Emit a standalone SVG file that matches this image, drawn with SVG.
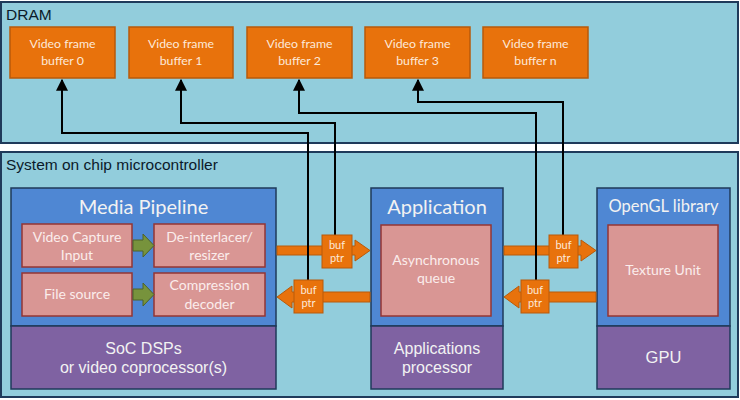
<svg xmlns="http://www.w3.org/2000/svg" width="740" height="400" viewBox="0 0 740 400">
<defs>
<style>
.region{fill:#92CDDC;stroke:#1F3A5A;stroke-width:2}
.rtitle{font-family:"Liberation Sans",Arial,sans-serif;font-size:15.5px;fill:#0B1A2A}
.buf{fill:#E8720C;stroke:#B85A0A;stroke-width:1.5}
.buft{font-family:Lato,"Open Sans",sans-serif;font-size:12.3px;fill:#FDE9D9;text-anchor:middle}
.blue{fill:#4F87D3;stroke:#1F3A5A;stroke-width:1.5}
.purple{fill:#7F62A2;stroke:#1F3A5A;stroke-width:1.5}
.pink{fill:#D99694;stroke:#943634;stroke-width:1.5}
.title{font-family:Lato,"Open Sans",sans-serif;font-size:20px;fill:#F2F2F2;text-anchor:middle}
.inner{font-family:Lato,"Open Sans",sans-serif;font-size:14px;fill:#FBEDEC;text-anchor:middle}
.proc{font-family:"Liberation Sans",Arial,sans-serif;font-size:16px;fill:#F2F2F2;text-anchor:middle}
.garrow{fill:#77933C;stroke:#4F6228;stroke-width:1}
.oarrow{fill:#E8720C;stroke:#B85A0A;stroke-width:1}
.ptr{fill:#E8720C;stroke:#B85A0A;stroke-width:1}
.ptrt{font-family:Lato,"Open Sans",sans-serif;font-size:11px;fill:#FDE9D9;text-anchor:middle}
.wire{fill:none;stroke:#000;stroke-width:2;marker-end:url(#ah)}
</style>
<marker id="ah" viewBox="0 0 10 10" refX="9" refY="5" markerWidth="6" markerHeight="6" orient="auto" markerUnits="strokeWidth">
<path d="M0,0 L10,5 L0,10 z" fill="#000"/>
</marker>
</defs>

<g id="dram">
<rect class="region" x="1" y="2" width="737" height="141"/>
<text class="rtitle" x="6" y="20">DRAM</text>
</g>
<g id="buffer0"><rect class="buf" x="10" y="27" width="105" height="51"/><text class="buft" x="62.5" y="48">Video frame</text><text class="buft" x="62.5" y="65">buffer 0</text></g>
<g id="buffer1"><rect class="buf" x="129" y="27" width="104" height="51"/><text class="buft" x="181" y="48">Video frame</text><text class="buft" x="181" y="65">buffer 1</text></g>
<g id="buffer2"><rect class="buf" x="247" y="27" width="105" height="51"/><text class="buft" x="299.5" y="48">Video frame</text><text class="buft" x="299.5" y="65">buffer 2</text></g>
<g id="buffer3"><rect class="buf" x="365" y="27" width="105" height="51"/><text class="buft" x="417.5" y="48">Video frame</text><text class="buft" x="417.5" y="65">buffer 3</text></g>
<g id="buffern"><rect class="buf" x="483" y="27" width="105" height="51"/><text class="buft" x="535.5" y="48">Video frame</text><text class="buft" x="535.5" y="65">buffer n</text></g>

<g id="soc">
<rect class="region" x="1" y="152" width="737" height="245"/>
<text class="rtitle" x="6" y="170">System on chip microcontroller</text>
</g>

<g id="media-pipeline">
<rect class="blue" x="11" y="188" width="265" height="138"/>
<rect class="purple" x="11" y="326" width="265" height="63"/>
<text class="title" x="143.5" y="214">Media Pipeline</text>
<text class="proc" x="143.5" y="354">SoC DSPs</text>
<text class="proc" x="143.5" y="373">or video coprocessor(s)</text>
</g>
<g id="video-capture"><rect class="pink" x="22" y="224" width="110" height="43"/><text class="inner" x="77" y="242">Video Capture</text><text class="inner" x="77" y="260">Input</text></g>
<g id="deinterlacer"><rect class="pink" x="154" y="224" width="111" height="43"/><text class="inner" x="209.5" y="242">De-interlacer/</text><text class="inner" x="209.5" y="260">resizer</text></g>
<g id="file-source"><rect class="pink" x="22" y="273" width="110" height="43"/><text class="inner" x="77" y="299">File source</text></g>
<g id="compression"><rect class="pink" x="154" y="273" width="111" height="43"/><text class="inner" x="209.5" y="290">Compression</text><text class="inner" x="209.5" y="309">decoder</text></g>

<g id="application">
<rect class="blue" x="371" y="188" width="132" height="138"/>
<rect class="purple" x="371" y="326" width="132" height="63"/>
<text class="title" x="437" y="214">Application</text>
<text class="proc" x="437" y="354">Applications</text>
<text class="proc" x="437" y="373">processor</text>
</g>
<g id="async-queue"><rect class="pink" x="381" y="225" width="110" height="91"/><text class="inner" x="436" y="265">Asynchronous</text><text class="inner" x="436" y="283">queue</text></g>

<g id="opengl">
<rect class="blue" x="597" y="188" width="133" height="138"/>
<rect class="purple" x="597" y="326" width="133" height="63"/>
<text class="title" x="663.5" y="212" style="font-size:16.5px">OpenGL library</text>
<text class="proc" x="663.5" y="363" style="font-size:16.5px">GPU</text>
</g>
<g id="texture-unit"><rect class="pink" x="608" y="225" width="110" height="91"/><text class="inner" x="663" y="275">Texture Unit</text></g>

<g id="connectors">
<polygon class="garrow" points="133,240 143,240 143,234 154,245.5 143,257 143,251 133,251"/>
<polygon class="garrow" points="133,289 143,289 143,283 154,294.5 143,306 143,300 133,300"/>

<polygon class="oarrow" points="277,246 355,246 355,240 370,250.5 355,261 355,255 277,255"/>
<polygon class="oarrow" points="370,292 292,292 292,286 277,297 292,308 292,302 370,302"/>
<polygon class="oarrow" points="504,246 581,246 581,240 596,250.5 581,261 581,255 504,255"/>
<polygon class="oarrow" points="596,292 519,292 519,286 504,297 519,308 519,302 596,302"/>

<path class="wire" d="M308,280 V133 H62 V80"/>
<path class="wire" d="M335,235 V123 H181 V80"/>
<path class="wire" d="M536,280 V113 H299 V80"/>
<path class="wire" d="M563,235 V102 H418 V80"/>

<g id="ptr1"><rect class="ptr" x="322" y="235" width="30" height="33"/><text class="ptrt" x="337" y="249">buf</text><text class="ptrt" x="337" y="262">ptr</text></g>
<g id="ptr2"><rect class="ptr" x="294" y="280" width="29" height="33"/><text class="ptrt" x="308.5" y="294">buf</text><text class="ptrt" x="308.5" y="307">ptr</text></g>
<g id="ptr3"><rect class="ptr" x="549" y="235" width="29" height="33"/><text class="ptrt" x="563.5" y="249">buf</text><text class="ptrt" x="563.5" y="262">ptr</text></g>
<g id="ptr4"><rect class="ptr" x="521" y="280" width="28" height="33"/><text class="ptrt" x="535" y="294">buf</text><text class="ptrt" x="535" y="307">ptr</text></g>
</g>
</svg>
